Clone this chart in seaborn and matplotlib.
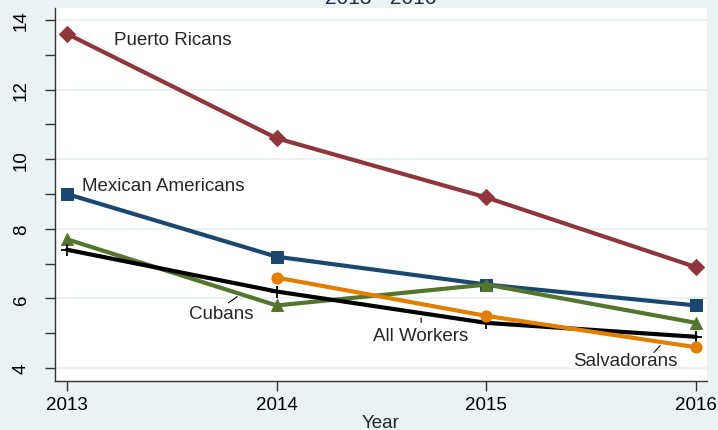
import numpy as np
import pandas as pd
import matplotlib
matplotlib.use("Agg")
import matplotlib.pyplot as plt
import seaborn as sns

years = [2013, 2014, 2015, 2016]
puerto_ricans = [13.6, 10.6, 8.9, 6.9]
mexican_americans = [9.0, 7.2, 6.4, 5.8]
cubans = [7.7, 5.8, 6.4, 5.3]
all_workers = [7.4, 6.2, 5.3, 4.9]
salvadorans = [np.nan, 6.6, 5.5, 4.6]

series = {
    "Puerto Ricans": puerto_ricans,
    "Mexican Americans": mexican_americans,
    "Cubans": cubans,
    "All Workers": all_workers,
    "Salvadorans": salvadorans,
}
colors = {
    "Puerto Ricans": "#90353b",
    "Mexican Americans": "#1a476f",
    "Cubans": "#55752f",
    "All Workers": "#000000",
    "Salvadorans": "#e37e00",
}
markers = {
    "Puerto Ricans": "D",
    "Mexican Americans": "s",
    "Cubans": "^",
    "All Workers": "+",
    "Salvadorans": "o",
}
msizes = {
    "Puerto Ricans": 8,
    "Mexican Americans": 8,
    "Cubans": 9,
    "All Workers": 9,
    "Salvadorans": 8,
}

rows = []
for name, vals in series.items():
    for y, v in zip(years, vals):
        rows.append({"Year": y, "value": v, "group": name})
df = pd.DataFrame(rows).dropna()

sns.set_style("white")
plt.rcParams["font.family"] = ["Liberation Sans", "DejaVu Sans"]

bg = "#eaf2f3"
fig = plt.figure(figsize=(7.18, 4.31), dpi=100, facecolor=bg)
ax = fig.add_axes([55 / 718, 1 - 381.7 / 431, (707 - 55) / 718, (381.7 - 9) / 431])
ax.set_facecolor("white")

for name in series:
    sub = df[df["group"] == name]
    if name == "All Workers":
        sns.lineplot(data=sub, x="Year", y="value", ax=ax, color=colors[name],
                     linewidth=3, marker=markers[name], markersize=msizes[name],
                     markeredgewidth=1.3, markeredgecolor="black", legend=False,
                     zorder=3)
    else:
        sns.lineplot(data=sub, x="Year", y="value", ax=ax, color=colors[name],
                     linewidth=3, marker=markers[name], markersize=msizes[name],
                     markeredgecolor=colors[name], legend=False, zorder=3)

ax.set_xlim(2012.943, 2016.052)
ax.set_ylim(3.64, 14.34)
ax.set_xticks(years)
ax.set_xticklabels([str(y) for y in years])
ax.set_yticks([4, 6, 8, 10, 12, 14])
ax.set_yticks([5, 7, 9, 11, 13], minor=True)
ax.tick_params(axis="both", which="both", direction="out", length=7, width=1,
               color="#333333", labelsize=13.5, labelcolor="black",
               left=True, bottom=True)
for lab in ax.get_yticklabels():
    lab.set_rotation(90)
    lab.set_va("center")
ax.tick_params(axis="y", pad=11)
ax.tick_params(axis="x", pad=4)
ax.grid(axis="y", which="major", color=bg, linewidth=1.5, zorder=0)
ax.set_axisbelow(True)
for s in ["top", "right"]:
    ax.spines[s].set_visible(False)
for s in ["left", "bottom"]:
    ax.spines[s].set_color("#333333")
    ax.spines[s].set_linewidth(1)

ax.set_xlabel("Year", fontsize=13.5, labelpad=1)
ax.set_ylabel("")

fs = 13.5
ax.text(2013.224, 13.45, "Puerto Ricans", fontsize=fs, ha="left", va="center")
ax.text(2013.072, 9.25, "Mexican Americans", fontsize=fs, ha="left", va="center")
ax.text(2013.888, 5.57, "Cubans", fontsize=fs, ha="right", va="center")
ax.text(2014.461, 4.93, "All Workers", fontsize=fs, ha="left", va="center")
ax.text(2015.413, 4.23, "Salvadorans", fontsize=fs, ha="left", va="center")

lk = dict(arrowstyle="-", color="black", lw=0.8)
ax.annotate("", xy=(2013.823, 6.10), xytext=(2013.759, 5.83), arrowprops=lk)
ax.annotate("", xy=(2014.689, 5.52), xytext=(2014.689, 5.23), arrowprops=lk)
ax.annotate("", xy=(2015.838, 4.71), xytext=(2015.79, 4.39), arrowprops=lk)

fig.text(381 / 718, 1 - 3.5 / 431, "2013 - 2016", fontsize=15, ha="center",
         va="baseline", color="#1e2a40")

fig.savefig("out.png", dpi=100, facecolor=bg)
